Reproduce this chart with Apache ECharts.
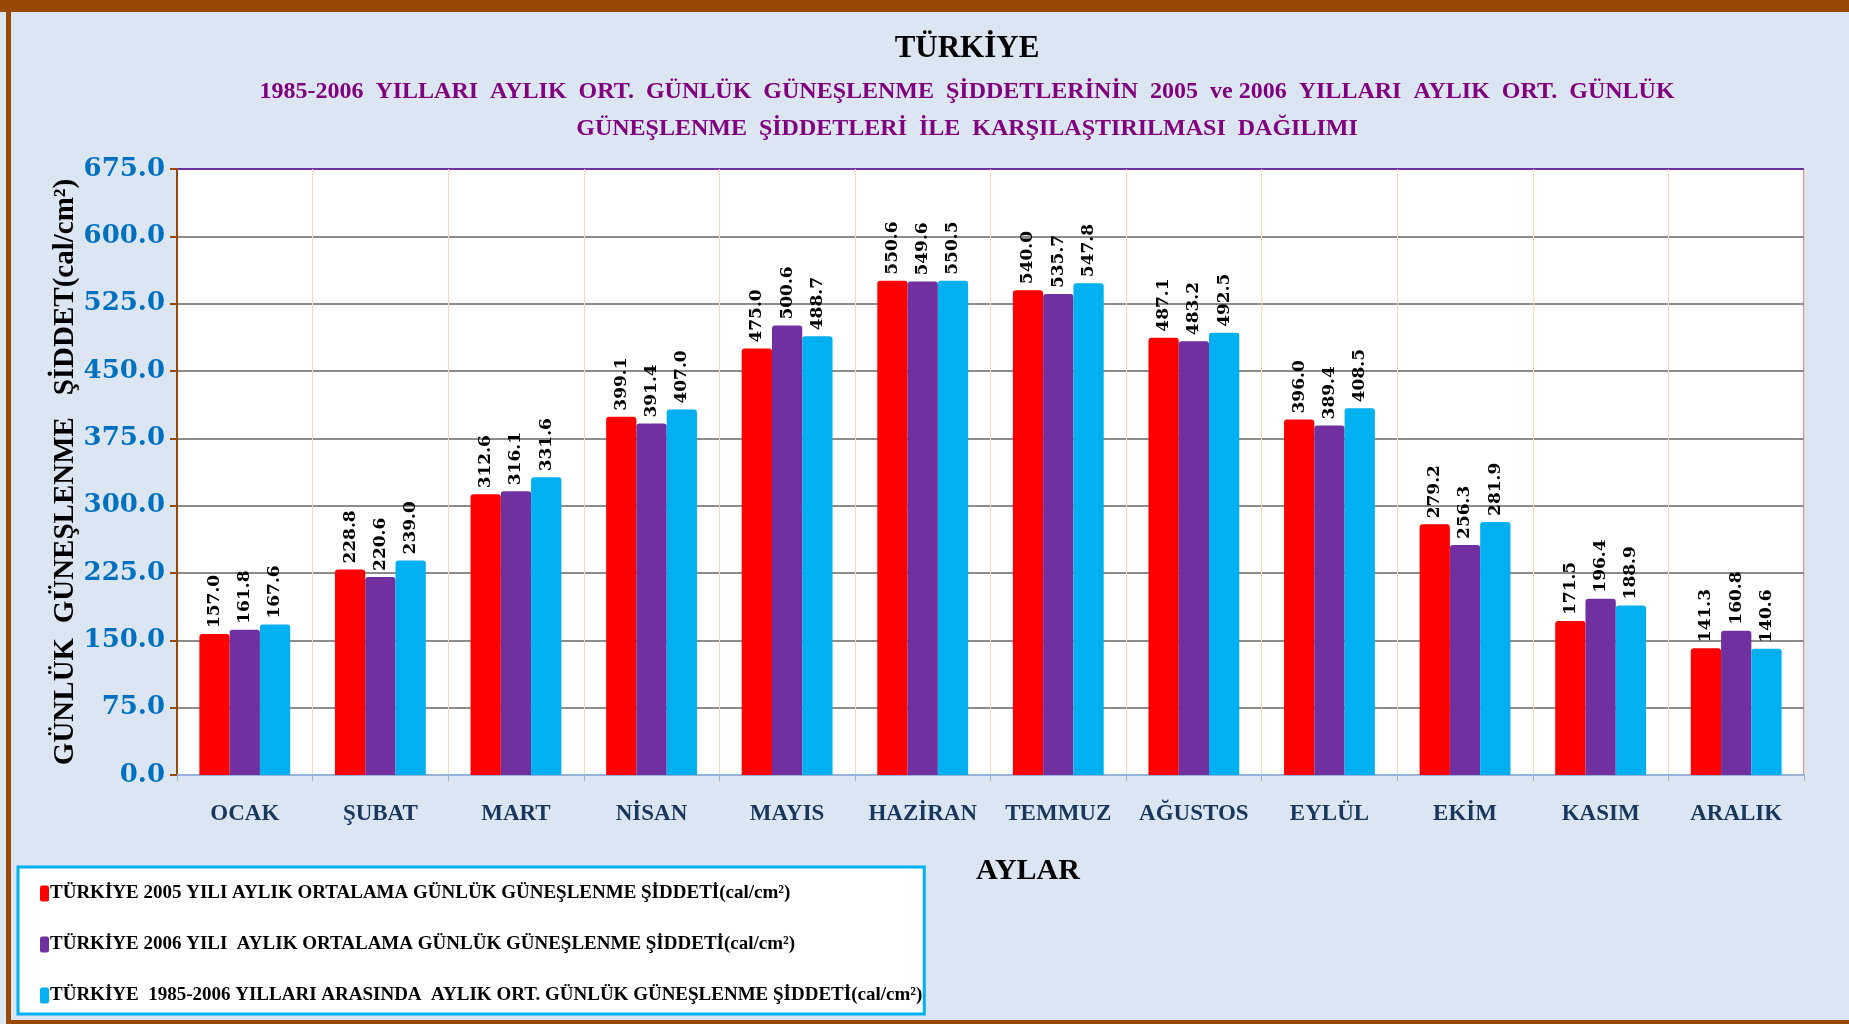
<!DOCTYPE html>
<html>
<head>
<meta charset="utf-8">
<script src="https://cdn.jsdelivr.net/npm/echarts@6/dist/echarts.min.js"></script>
<style>
html,body{margin:0;padding:0;background:#DCE6F2;}
#chart{width:1849px;height:1024px;}
</style>
</head>
<body>
<div id="chart"></div>
<script>
const months = ['OCAK','ŞUBAT','MART','NİSAN','MAYIS','HAZİRAN','TEMMUZ','AĞUSTOS','EYLÜL','EKİM','KASIM','ARALIK'];
const seriesNames = [
  'TÜRKİYE 2005 YILI AYLIK ORTALAMA GÜNLÜK GÜNEŞLENME ŞİDDETİ(cal/cm²)',
  'TÜRKİYE 2006 YILI  AYLIK ORTALAMA GÜNLÜK GÜNEŞLENME ŞİDDETİ(cal/cm²)',
  'TÜRKİYE  1985-2006 YILLARI ARASINDA  AYLIK ORT. GÜNLÜK GÜNEŞLENME ŞİDDETİ(cal/cm²)'
];
const values2005 = [157.0, 228.8, 312.6, 399.1, 475.0, 550.6, 540.0, 487.1, 396.0, 279.2, 171.5, 141.3];
const values2006 = [161.8, 220.6, 316.1, 391.4, 500.6, 549.6, 535.7, 483.2, 389.4, 256.3, 196.4, 160.8];
const valuesAvg  = [167.6, 239.0, 331.6, 407.0, 488.7, 550.5, 547.8, 492.5, 408.5, 281.9, 188.9, 140.6];
const seriesColors = ['#FF0000', '#7030A0', '#00B0F0'];
const titleText = 'TÜRKİYE';
const subtitleText = '1985-2006  YILLARI  AYLIK  ORT.  GÜNLÜK  GÜNEŞLENME  ŞİDDETLERİNİN  2005  ve 2006  YILLARI  AYLIK  ORT.  GÜNLÜK\nGÜNEŞLENME  ŞİDDETLERİ  İLE  KARŞILAŞTIRILMASI  DAĞILIMI';
const yAxisName = 'GÜNLÜK  GÜNEŞLENME   ŞİDDET(cal/cm²)';
const xAxisName = 'AYLAR';

const serif = '"Liberation Serif", "Times New Roman", serif';
const wideSerif = '"DejaVu Serif", serif';

const chart = echarts.init(document.getElementById('chart'));

function makeSeries(name, data, color) {
  return {
    name: name,
    type: 'bar',
    data: data,
    barGap: '0%',
    barCategoryGap: '33%',
    itemStyle: { color: color, borderRadius: [3, 3, 0, 0] },
    label: {
      show: true,
      position: 'top',
      rotate: 90,
      align: 'left',
      verticalAlign: 'middle',
      distance: 6,
      formatter: p => p.value.toFixed(1),
      color: '#000',
      fontFamily: wideSerif,
      fontWeight: 'bold',
      fontSize: 17
    }
  };
}

const gridColors = ['#8C8C8C','#8C8C8C','#8C8C8C','#8C8C8C','#8C8C8C','#8C8C8C','#8C8C8C','#8C8C8C','#8C8C8C','#7030A0'];

chart.setOption({
  backgroundColor: '#DCE6F2',
  animation: false,
  title: [
    {
      text: titleText,
      left: 962, top: 28, textAlign: 'center',
      textStyle: { fontFamily: serif, fontWeight: 'bold', fontSize: 31, color: '#000' }
    },
    {
      text: subtitleText,
      left: 962, top: 68, textAlign: 'center',
      textStyle: { fontFamily: serif, fontWeight: 'bold', fontSize: 24, color: '#800080', lineHeight: 37 }
    }
  ],
  legend: {
    orient: 'vertical',
    left: 18, top: 867,
    padding: [17, 2, 9, 22],
    itemGap: 32,
    itemWidth: 9, itemHeight: 16,
    icon: 'roundRect',
    backgroundColor: '#FFFFFF',
    borderColor: '#00B0F0',
    borderWidth: 3,
    textStyle: { fontFamily: serif, fontWeight: 'bold', fontSize: 19, color: '#000', padding: [0,0,0,-4] },
    data: seriesNames
  },
  grid: {
    left: 177, right: 45, top: 169, bottom: 249,
    show: true, backgroundColor: '#FFFFFF', borderColor: '#7030A0', borderWidth: 1,
    containLabel: false
  },
  xAxis: {
    type: 'category',
    data: months,
    axisLine: { show: true, lineStyle: { color: '#95B3D7', width: 2 } },
    axisTick: { show: true, interval: 0, length: 6, lineStyle: { color: '#95B3D7' } },
    splitLine: { show: true, interval: 0, lineStyle: { color: '#FBD4B4', width: 1 } },
    axisLabel: { interval: 0, margin: 28, color: '#17375E', fontFamily: serif, fontWeight: 'bold', fontSize: 23 }
  },
  yAxis: {
    type: 'value',
    min: 0, max: 675, interval: 75,
    name: yAxisName,
    nameLocation: 'middle',
    nameGap: 97,
    nameMoveOverlap: false,
    nameTextStyle: { fontFamily: serif, fontWeight: 'bold', fontSize: 29, color: '#000' },
    axisLine: { show: true, lineStyle: { color: '#984807', width: 2 } },
    axisTick: { show: true, length: 7, lineStyle: { color: '#984807', width: 2 } },
    splitLine: { show: true, lineStyle: { color: gridColors, width: 2 } },
    axisLabel: { margin: 12, formatter: v => v.toFixed(1), color: '#0070C0', fontFamily: wideSerif, fontWeight: 'bold', fontSize: 26 }
  },
  graphic: [
    { type: 'rect', shape: { x: 0, y: 0, width: 1849, height: 12 }, style: { fill: '#984807' }, silent: true },
    { type: 'rect', shape: { x: 6, y: 0, width: 5, height: 1024 }, style: { fill: '#984807' }, silent: true },
    { type: 'rect', shape: { x: 6, y: 1020, width: 1843, height: 4 }, style: { fill: '#984807' }, silent: true },
    { type: 'text', left: 976, top: 856, style: { text: xAxisName, fontFamily: serif, fontWeight: 'bold', fontSize: 30, fill: '#000' } }
  ],
  series: [
    makeSeries(seriesNames[0], values2005, seriesColors[0]),
    makeSeries(seriesNames[1], values2006, seriesColors[1]),
    makeSeries(seriesNames[2], valuesAvg, seriesColors[2])
  ]
});
</script>
</body>
</html>
